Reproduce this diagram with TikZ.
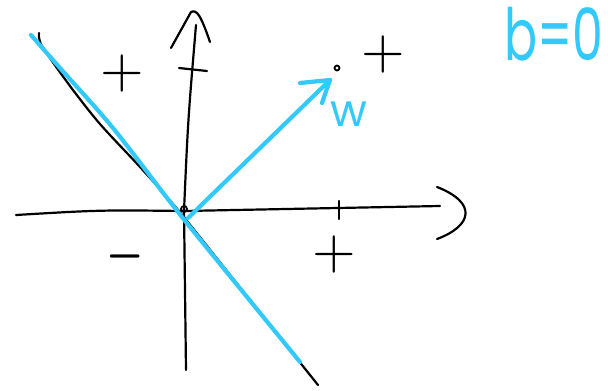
\documentclass[tikz,border=0pt]{standalone}
\usepackage{fontspec}
\setsansfont{Poppins}
\definecolor{skblue}{RGB}{51,201,250}
\tikzset{
  ax/.style  ={draw=black, line width=2.2pt, line cap=round, line join=round},
  sk/.style  ={draw=skblue, line width=4.2pt, line cap=round, line join=round},
  sgn/.style ={inner sep=0pt},
  lbl/.style ={text=skblue, inner sep=0pt},
}

\begin{document}
\begin{tikzpicture}[x=1pt,y=-1pt]
\useasboundingbox (0,0) rectangle (608,391);
\coordinate (O)  at (184,211);
\coordinate (xl) at (16,215);
\coordinate (xr) at (440,206);
\coordinate (yb) at (186,370);
\coordinate (yt) at (196,25);
% axes
\draw[ax] (xl) .. controls (100,210) .. (O) -- (xr);
\draw[ax] (yb) -- (O) .. controls (188,120) .. (yt);
\draw[ax] (437,187) .. controls (478,203) and (472,226) .. (437,239);
\draw[ax] (171,48) -- (191,12) .. controls (197,9) and (201,16) .. (210,42);
\draw[ax] (339,201) -- (339,219);
\draw[ax] (179,68) -- (207,71);
\draw[ax, line width=1.8pt] (184,209) circle (3);
% separating line
\draw[ax] plot[smooth] coordinates {(39,33) (42,46) (70,86) (100,124) (140,167) (178,210) (250,300) (318,385)};
\draw[sk] plot[smooth] coordinates {(31,35) (60,68) (113,128) (178,212) (247,297) (300,362)};
% normal vector
\coordinate (w0) at (188,218);
\coordinate (wt) at (330,80);
\draw[sk] (w0) -- (wt);
\draw[sk] (300,83) -- (wt) -- (322,103);
\draw[ax, line width=1.8pt] (337,68) circle (2.5);
\node[lbl, font=\sffamily\fontsize{45}{45}\selectfont, anchor=base west] (wl) at (330,126) {w};
\node[lbl, font=\sffamily\fontsize{72}{72}\selectfont, anchor=base west] (bl) at (504,60) {\scalebox{0.68}[1]{b=0}};
% signs
\node[sgn] (pa) at (122,73)  {\scalebox{5.6}{$+$}};
\node[sgn] (pb) at (383,54)  {\scalebox{5.6}{$+$}};
\node[sgn] (pc) at (334,254) {\scalebox{5.6}{$+$}};
\node[sgn] (mn) at (125,256) {\scalebox{4.8}[8]{$-$}};
\end{tikzpicture}
\end{document}
